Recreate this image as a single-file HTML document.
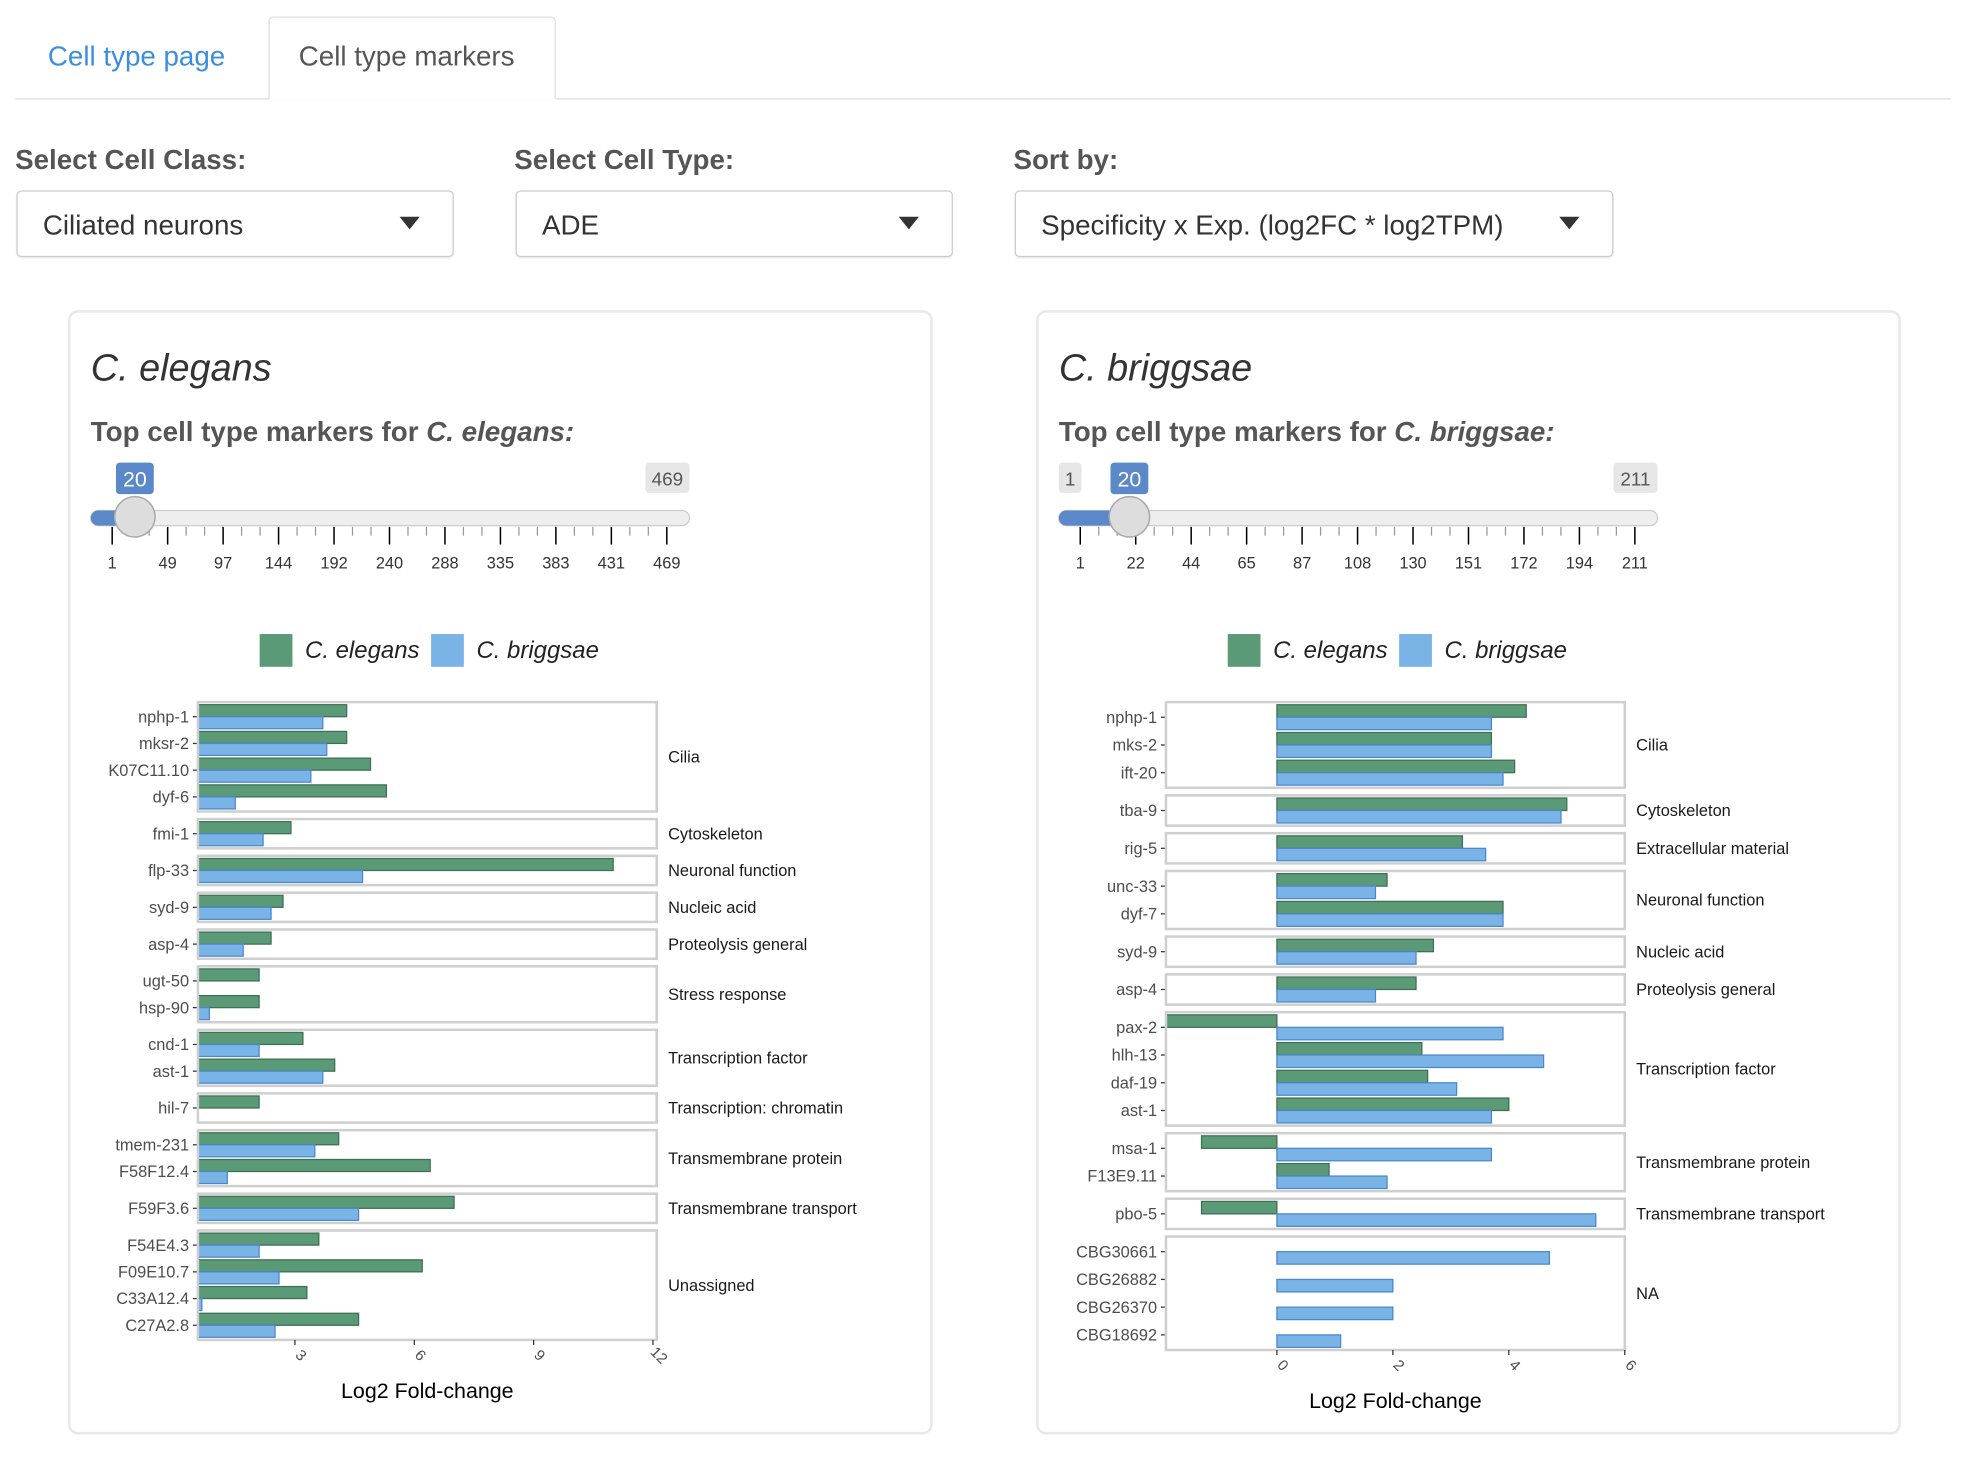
<!DOCTYPE html>
<html><head><meta charset="utf-8">
<style>
html,body{margin:0;padding:0;background:#fff;}
body{width:1976px;height:1458px;overflow:hidden;font-family:"Liberation Sans",sans-serif;}
#wrap{position:absolute;left:0;top:0;width:1568px;height:1157px;transform:scale(1.2605);transform-origin:0 0;}
.abs{position:absolute;}
.tabline{position:absolute;left:12px;top:78px;width:1536px;height:0;border-top:1px solid #ddd;}
.tab-active{position:absolute;left:213px;top:13px;width:228px;height:66px;border:1px solid #ddd;border-bottom:1px solid #fff;border-radius:4px 4px 0 0;background:#fff;box-sizing:border-box;}
.lbl{position:absolute;top:114px;font-size:22px;font-weight:bold;color:#555;}
.dd{position:absolute;top:151px;height:53px;border:1px solid #ccc;border-radius:4px;box-sizing:border-box;font-size:22px;color:#333;line-height:53px;padding-left:20px;box-shadow:0 1px 1px rgba(0,0,0,.08);}
.dd .arr{position:absolute;right:26px;top:20px;width:0;height:0;border-left:8px solid transparent;border-right:8px solid transparent;border-top:10px solid #333;}
.panel{position:absolute;top:246px;height:892px;border:2px solid #e8e8e8;border-radius:8px;box-sizing:border-box;}
.title{position:absolute;font-size:30px;font-style:italic;color:#333;}
.sub{position:absolute;font-size:22px;font-weight:bold;color:#555;}
</style></head>
<body>
<div id="wrap">
  <div class="tabline"></div>
  <div class="abs" style="left:38px;top:32px;font-size:22px;color:#3b8de0;">Cell type page</div>
  <div class="tab-active"><span style="position:absolute;left:23px;top:18px;font-size:22px;color:#555;">Cell type markers</span></div>

  <div class="lbl" style="left:12px">Select Cell Class:</div>
  <div class="lbl" style="left:408px">Select Cell Type:</div>
  <div class="lbl" style="left:804px">Sort by:</div>
  <div class="dd" style="left:13px;width:347px">Ciliated neurons<span class="arr"></span></div>
  <div class="dd" style="left:409px;width:347px">ADE<span class="arr"></span></div>
  <div class="dd" style="left:805px;width:475px">Specificity x Exp. (log2FC * log2TPM)<span class="arr"></span></div>

  <div class="panel" style="left:54px;width:686px"></div>
  <div class="panel" style="left:822px;width:686px"></div>
  <div class="title" style="left:72px;top:276px">C. elegans</div>
  <div class="title" style="left:840px;top:276px">C. briggsae</div>
  <div class="sub" style="left:72px;top:330px">Top cell type markers for <i>C. elegans:</i></div>
  <div class="sub" style="left:840px;top:330px">Top cell type markers for <i>C. briggsae:</i></div>

  <svg id="svg" class="abs" style="left:0;top:0" width="1568" height="1157"></svg>
</div>
<script>
// ---- Left chart (C. elegans markers) ----
const leftGenes = ["nphp-1","mksr-2","K07C11.10","dyf-6","fmi-1","flp-33","syd-9","asp-4","ugt-50","hsp-90","cnd-1","ast-1","hil-7","tmem-231","F58F12.4","F59F3.6","F54E4.3","F09E10.7","C33A12.4","C27A2.8"];
const leftGroups = ["Cilia","Cilia","Cilia","Cilia","Cytoskeleton","Neuronal function","Nucleic acid","Proteolysis general","Stress response","Stress response","Transcription factor","Transcription factor","Transcription: chromatin","Transmembrane protein","Transmembrane protein","Transmembrane transport","Unassigned","Unassigned","Unassigned","Unassigned"];
const leftElegans = [4.3,4.3,4.9,5.3,2.9,11.0,2.7,2.4,2.1,2.1,3.2,4.0,2.1,4.1,6.4,7.0,3.6,6.2,3.3,4.6];
const leftBriggsae = [3.7,3.8,3.4,1.5,2.2,4.7,2.4,1.7,null,0.85,2.1,3.7,null,3.5,1.3,4.6,2.1,2.6,0.66,2.5];
const leftTicks = [3,6,9,12];
// ---- Right chart (C. briggsae markers) ----
const rightGenes = ["nphp-1","mks-2","ift-20","tba-9","rig-5","unc-33","dyf-7","syd-9","asp-4","pax-2","hlh-13","daf-19","ast-1","msa-1","F13E9.11","pbo-5","CBG30661","CBG26882","CBG26370","CBG18692"];
const rightGroups = ["Cilia","Cilia","Cilia","Cytoskeleton","Extracellular material","Neuronal function","Neuronal function","Nucleic acid","Proteolysis general","Transcription factor","Transcription factor","Transcription factor","Transcription factor","Transmembrane protein","Transmembrane protein","Transmembrane transport","NA","NA","NA","NA"];
const rightElegans = [4.3,3.7,4.1,5.0,3.2,1.9,3.9,2.7,2.4,-1.95,2.5,2.6,4.0,-1.3,0.9,-1.3,null,null,null,null];
const rightBriggsae = [3.7,3.7,3.9,4.9,3.6,1.7,3.9,2.4,1.7,3.9,4.6,3.1,3.7,3.7,1.9,5.5,4.7,2.0,2.0,1.1];
const rightTicks = [0,2,4,6];
// ---- Sliders ----
const leftSliderTicks = [1,49,97,144,192,240,288,335,383,431,469];
const rightSliderTicks = [1,22,44,65,87,108,130,151,172,194,211];

const NS="http://www.w3.org/2000/svg";
const svg=document.getElementById('svg');
function mk(tag,attrs,parent){const e=document.createElementNS(NS,tag);for(const k in attrs)e.setAttribute(k,attrs[k]);(parent||svg).appendChild(e);return e;}

function drawChart(name,genes,groups,ge,gb,ticks,g){
  const x=v=>g.x0+g.k*v;
  const clampL=v=>Math.max(g.left,Math.min(g.right,x(v)));
  let y=g.top, i=0;
  const root=mk('g',{});
  
  
  while(i<genes.length){
    let j=i; while(j<genes.length && groups[j]===groups[i]) j++;
    const n=j-i, h=n*g.slot+2*g.pad;
    const pg=mk('g',{},root);
    
    
    for(let r=i;r<j;r++){
      const cy=y+g.pad+(r-i+0.5)*g.slot, bh=g.slot*0.45;
      if(ge[r]!==null){
        const a=clampL(Math.min(0,ge[r])), b=clampL(Math.max(0,ge[r]));
        const rc=mk('rect',{x:a,y:cy-bh,width:Math.max(0,b-a),height:bh,fill:'#5b9a76',stroke:'#3f6f54','stroke-width':1},pg);
        
        
      }
      if(gb[r]!==null){
        const a=clampL(Math.min(0,gb[r])), b=clampL(Math.max(0,gb[r]));
        const rc=mk('rect',{x:a,y:cy,width:Math.max(0,b-a),height:bh,fill:'#7ab3e6',stroke:'#4a88cc','stroke-width':1},pg);
        
        
      }
      mk('line',{x1:g.left-4,x2:g.left,y1:cy,y2:cy,stroke:'#333','stroke-width':1},pg);
      const t=mk('text',{x:g.left-7,y:cy+4.5,'text-anchor':'end','font-size':13,fill:'#4d4d4d','font-family':'Liberation Sans, sans-serif'},pg);
      t.textContent=genes[r];
      
      
    }
    mk('rect',{x:g.left,y:y,width:g.right-g.left,height:h,fill:'none',stroke:'#cfcfcf','stroke-width':2},pg);
    const ft=mk('text',{x:g.right+9,y:y+h/2+4.5,'font-size':13,fill:'#1a1a1a','font-family':'Liberation Sans, sans-serif'},pg);
    ft.textContent=groups[i];
    
    
    y+=h+g.gap; i=j;
  }
  const bottom=y-g.gap;
  ticks.forEach(t=>{
    const tx=x(t);
    mk('line',{x1:tx,x2:tx,y1:bottom,y2:bottom+4,stroke:'#333'},root);
    const tl=mk('text',{x:0,y:0,'font-size':12,fill:'#4d4d4d','text-anchor':'middle','font-family':'Liberation Sans, sans-serif',transform:`translate(${tx+2},${bottom+15}) rotate(45)`},root);
    tl.textContent=t;
    
    
  });
  const at=mk('text',{x:(g.left+g.right)/2,y:bottom+46,'text-anchor':'middle','font-size':17,fill:'#000','font-family':'Liberation Sans, sans-serif'},root);
  at.textContent='Log2 Fold-change';
  
  
}
drawChart('elegans',leftGenes,leftGroups,leftElegans,leftBriggsae,leftTicks,{left:157,right:521,x0:139.3,k:31.56,top:557,slot:21.2,pad:1,gap:6});
drawChart('briggsae',rightGenes,rightGroups,rightElegans,rightBriggsae,rightTicks,{left:925,right:1289,x0:1013,k:46,top:557,slot:22,pad:1,gap:6});

function legend(x0,name){
  const g=mk('g',{});
  
  
  mk('rect',{x:x0,y:503,width:26,height:26,fill:'#5b9a76'},g);
  let t=mk('text',{x:x0+36,y:522,'font-size':19,'font-style':'italic',fill:'#222','font-family':'Liberation Sans, sans-serif'},g);t.textContent='C. elegans';
  mk('rect',{x:x0+136,y:503,width:26,height:26,fill:'#7ab3e6'},g);
  t=mk('text',{x:x0+172,y:522,'font-size':19,'font-style':'italic',fill:'#222','font-family':'Liberation Sans, sans-serif'},g);t.textContent='C. briggsae';
}
legend(206,'elegans');legend(974,'briggsae');

function slider(name,l,r,labels,handleX,showMin){
  const g=mk('g',{});
  
  
  mk('rect',{x:l,y:405,width:r-l,height:12,rx:6,fill:'#eee',stroke:'#ccc'},g);
  mk('rect',{x:l,y:405,width:handleX-l,height:12,rx:6,fill:'#5a88c9'},g);
  const first=l+17,last=r-18,step=(last-first)/(labels.length-1);
  labels.forEach((v,k)=>{
    const tx=first+k*step;
    mk('line',{x1:tx,x2:tx,y1:418,y2:432,stroke:'#000','stroke-width':1.2},g);
    if(k<labels.length-1){for(let m=1;m<3;m++){const mx=tx+m*step/3;mk('line',{x1:mx,x2:mx,y1:418,y2:425,stroke:'#999'},g);}}
    const t=mk('text',{x:tx,y:451,'text-anchor':'middle','font-size':13,fill:'#333','font-family':'Liberation Sans, sans-serif'},g);t.textContent=v;
  });
  mk('circle',{cx:handleX,cy:410,r:16,fill:'#ddd',stroke:'#aaa','stroke-width':1.2},g);
  mk('rect',{x:handleX-15,y:367,width:30,height:25,rx:3,fill:'#5a88c9'},g);
  let t=mk('text',{x:handleX,y:386,'text-anchor':'middle','font-size':17,fill:'#fff','font-family':'Liberation Sans, sans-serif'},g);t.textContent='20';
  const maxL=labels[labels.length-1];
  mk('rect',{x:r-35,y:367,width:35,height:24,rx:3,fill:'#e6e6e6'},g);
  t=mk('text',{x:r-17.5,y:385,'text-anchor':'middle','font-size':15,fill:'#555','font-family':'Liberation Sans, sans-serif'},g);t.textContent=maxL;
  if(showMin){
    mk('rect',{x:l,y:367,width:18,height:24,rx:3,fill:'#e6e6e6'},g);
    t=mk('text',{x:l+9,y:385,'text-anchor':'middle','font-size':15,fill:'#555','font-family':'Liberation Sans, sans-serif'},g);t.textContent=labels[0];
  }
}
slider('elegans',72,547,leftSliderTicks,107,false);
slider('briggsae',840,1315,rightSliderTicks,896,true);
</script>
</body></html>
